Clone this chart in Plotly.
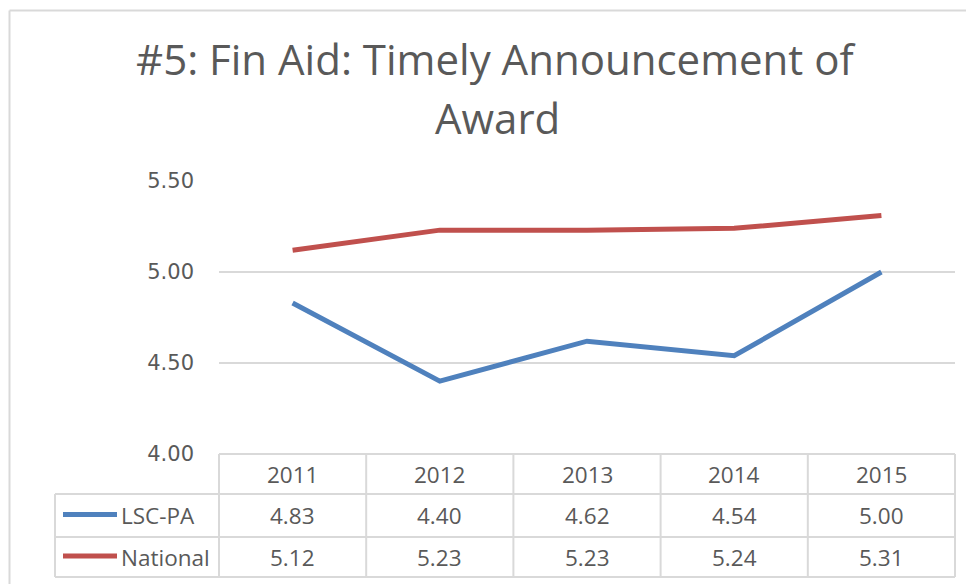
import plotly.graph_objects as go

# ---- data ----
years = ["2011", "2012", "2013", "2014", "2015"]
lsc_pa = [4.83, 4.40, 4.62, 4.54, 5.00]
national = [5.12, 5.23, 5.23, 5.24, 5.31]
series_names = ["LSC-PA", "National"]
title_lines = ["#5: Fin Aid: Timely Announcement of", "Award"]

# ---- style ----
W, H = 974, 584
BLUE = "#4F81BD"
RED = "#C0504D"
GRID = "#D9D9D9"
TXT = "#595959"
FONT = "Open Sans"
PAGE_MARGIN = 8  # default body margin of the html page

# plot area in (screen) pixels
PL, PR, PT, PB = 219, 955, 181, 454


def fx(px):
    return (px - PAGE_MARGIN) / W


def fy(py):
    return 1 - (py - PAGE_MARGIN) / H


fig = go.Figure()
fig.add_trace(go.Scatter(x=years, y=lsc_pa, mode="lines", name=series_names[0],
                         line=dict(color=BLUE, width=5), showlegend=False))
fig.add_trace(go.Scatter(x=years, y=national, mode="lines", name=series_names[1],
                         line=dict(color=RED, width=5), showlegend=False))

fig.update_layout(
    width=W, height=H,
    margin=dict(l=0, r=0, t=0, b=0, pad=0, autoexpand=False),
    paper_bgcolor="white", plot_bgcolor="white",
    xaxis=dict(domain=[fx(PL), fx(PR)], type="category", range=[-0.5, 4.5],
               showticklabels=False, showgrid=False, zeroline=False, showline=False,
               ticks="", automargin=False),
    yaxis=dict(domain=[fy(PB), fy(PT)], range=[4.0, 5.5], dtick=0.5, tick0=4.0,
               tickformat=".2f", showgrid=True, gridcolor=GRID, gridwidth=2,
               zeroline=False, showline=False, ticks="", automargin=False,
               tickfont=dict(family="DejaVu Sans", size=21, color=TXT),
               ticklabelstandoff=24),
    showlegend=False,
)

shapes = []
# outer chart border (left and top)
shapes.append(dict(type="line", xref="paper", yref="paper", x0=fx(9.5), x1=fx(990),
                   y0=fy(10.5), y1=fy(10.5), line=dict(color=GRID, width=2)))
shapes.append(dict(type="line", xref="paper", yref="paper", x0=fx(9.5), x1=fx(9.5),
                   y0=fy(10.5), y1=fy(600), line=dict(color=GRID, width=2)))

# data table grid
row_y = [454, 494, 537, 577]
legend_left = 55
colw = (PR - PL) / len(years)
tl = dict(color=GRID, width=2)
shapes.append(dict(type="line", xref="paper", yref="paper", x0=fx(PL), x1=fx(PR),
                   y0=fy(row_y[0]), y1=fy(row_y[0]), line=tl))
for ry in row_y[1:]:
    shapes.append(dict(type="line", xref="paper", yref="paper", x0=fx(legend_left), x1=fx(PR),
                       y0=fy(ry), y1=fy(ry), line=tl))
shapes.append(dict(type="line", xref="paper", yref="paper", x0=fx(legend_left), x1=fx(legend_left),
                   y0=fy(row_y[1]), y1=fy(row_y[3]), line=tl))
for i in range(len(years) + 1):
    xx = PL + i * colw
    shapes.append(dict(type="line", xref="paper", yref="paper", x0=fx(xx), x1=fx(xx),
                       y0=fy(row_y[0]), y1=fy(row_y[3]), line=tl))

# legend keys in the table
key_colors = [BLUE, RED]
for r, c in enumerate(key_colors):
    cy = (row_y[r + 1] + row_y[r + 2]) / 2 - 1
    shapes.append(dict(type="line", xref="paper", yref="paper", x0=fx(63), x1=fx(117),
                       y0=fy(cy), y1=fy(cy), line=dict(color=c, width=5)))

annotations = []
# title
annotations.append(dict(text=title_lines[0], xref="paper", yref="paper", x=fx(496), y=fy(59),
                        xanchor="center", yanchor="middle", showarrow=False,
                        font=dict(family=FONT, size=42, color=TXT)))
annotations.append(dict(text=title_lines[1], xref="paper", yref="paper", x=fx(497), y=fy(118),
                        xanchor="center", yanchor="middle", showarrow=False,
                        font=dict(family=FONT, size=42, color=TXT)))

tfont = dict(family=FONT, size=22.5, color=TXT)
# header row
for i, yr in enumerate(years):
    annotations.append(dict(text=yr, xref="paper", yref="paper",
                            x=fx(PL + (i + 0.5) * colw), y=fy((row_y[0] + row_y[1]) / 2),
                            xanchor="center", yanchor="middle", showarrow=False, font=tfont))
# value rows
for r, (nm, vals) in enumerate(zip(series_names, [lsc_pa, national])):
    cy = (row_y[r + 1] + row_y[r + 2]) / 2
    annotations.append(dict(text=nm, xref="paper", yref="paper", x=fx(119), y=fy(cy),
                            xanchor="left", yanchor="middle", showarrow=False, font=tfont))
    for i, v in enumerate(vals):
        annotations.append(dict(text=f"{v:.2f}", xref="paper", yref="paper",
                                x=fx(PL + (i + 0.5) * colw), y=fy(cy),
                                xanchor="center", yanchor="middle", showarrow=False, font=tfont))

fig.update_layout(shapes=shapes, annotations=annotations)
fig.write_html("out.html")
